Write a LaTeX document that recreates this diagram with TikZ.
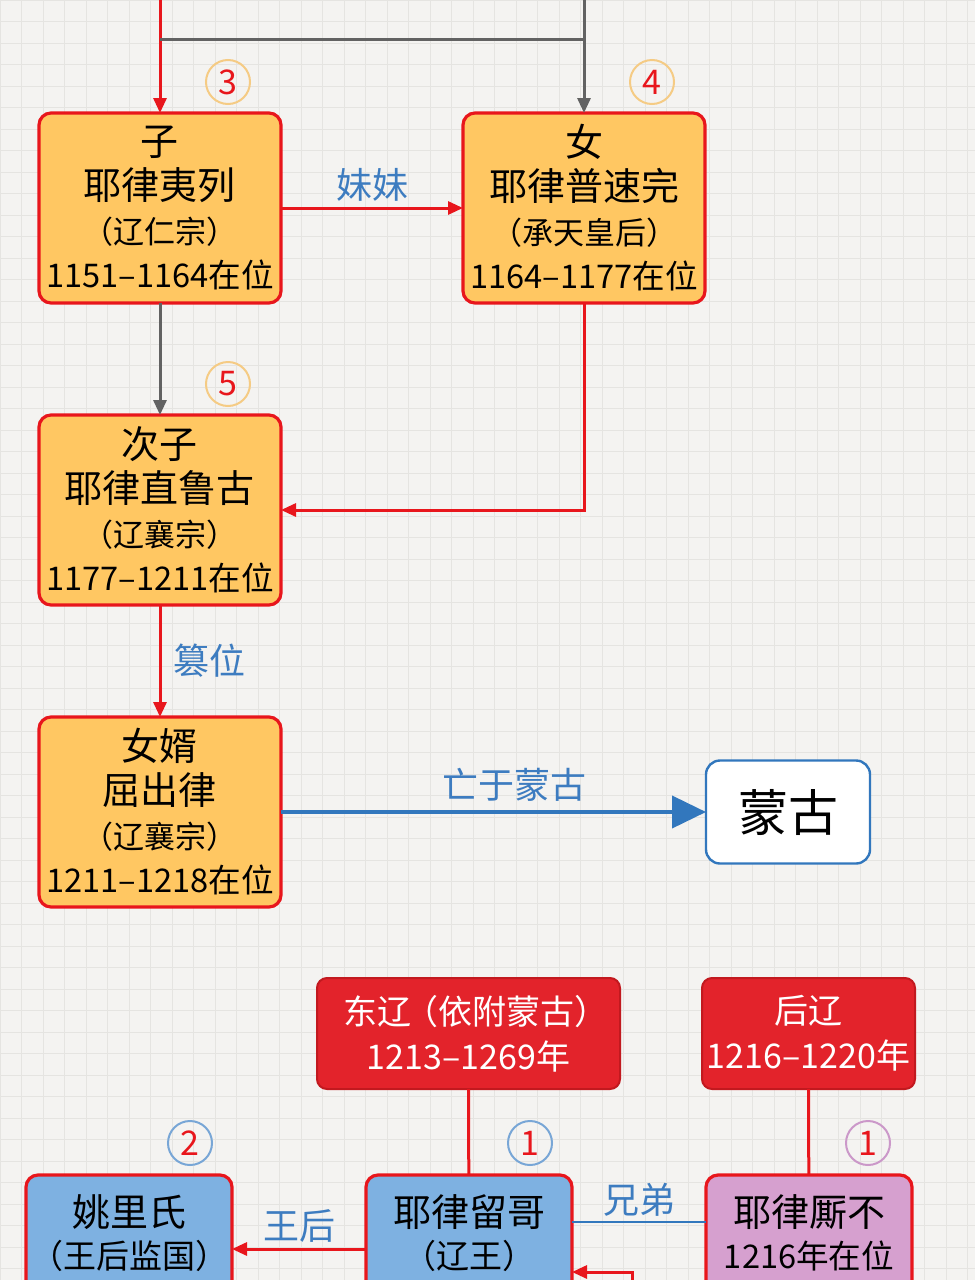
\documentclass[tikz,border=0pt]{standalone}
\usepackage{fontspec}
\setmainfont{Noto Sans CJK SC}
\usetikzlibrary{arrows.meta,positioning,calc}

\definecolor{redline}{HTML}{E8161C}
\definecolor{grayline}{HTML}{626262}
\definecolor{labelblue}{HTML}{3D7CC0}
\definecolor{arrowblue}{HTML}{3277BD}
\definecolor{orangefill}{HTML}{FFC762}
\definecolor{bluefill}{HTML}{7EB1E1}
\definecolor{pinkfill}{HTML}{D6A0CF}
\definecolor{ringorange}{HTML}{F5CB84}
\definecolor{ringblue}{HTML}{78A6D6}
\definecolor{ringpink}{HTML}{CB98C9}
\definecolor{realmred}{HTML}{E3232B}
\definecolor{realmedge}{HTML}{C2191F}
\definecolor{paper}{HTML}{F4F3F1}
\definecolor{gridgray}{HTML}{E5E4E1}

\newcommand{\namefont}{\fontsize{19}{22}\selectfont}
\newcommand{\parfont}{\fontsize{15.5}{22}\selectfont}
\newcommand{\yearfont}{\fontsize{16.3}{22}\selectfont}

\begin{document}
\begin{tikzpicture}[x=0.5pt,y=-0.5pt,>={Triangle[length=7.5pt,width=6.5pt]},auto,node distance=56pt,
                    semithick]
  \tikzstyle{ruler}=[rectangle,rounded corners=6pt,draw=redline,line width=1.6pt,fill=orangefill,
                     minimum width=121pt,minimum height=95pt,inner sep=0pt,outer sep=0pt,align=center,
                     font=\namefont]
  \tikzstyle{noble}=[rectangle,rounded corners=6pt,draw=redline,line width=1.6pt,anchor=north,
                     minimum width=103pt,inner xsep=0pt,inner ysep=10pt,outer sep=0pt,text depth=60pt,
                     align=center,font=\fontsize{19}{21}\selectfont]
  \tikzstyle{realm}=[rectangle,rounded corners=5pt,draw=realmedge,line width=1pt,fill=realmred,
                     text=white,minimum height=55.5pt,inner sep=0pt,outer sep=0pt,align=center,
                     font=\fontsize{17}{22.5}\selectfont]
  \tikzstyle{mgbox}=[rectangle,rounded corners=7pt,draw=arrowblue,line width=1.2pt,fill=white,
                     minimum width=82pt,minimum height=51.5pt,outer sep=0pt,font=\fontsize{25}{25}\selectfont]
  \tikzstyle{seq}=[circle,draw,line width=1pt,minimum size=22pt,inner sep=0pt,text=redline,
                   font=\fontsize{17}{17}\selectfont]
  \tikzstyle{lbl}=[text=labelblue,inner sep=2.5pt,font=\fontsize{18}{18}\selectfont]
  \tikzstyle{redarr}=[draw=redline,line width=1.5pt,->]
  \tikzstyle{grayarr}=[draw=grayline,line width=1.5pt,->]
  \tikzstyle{bluearr}=[draw=arrowblue,line width=2pt,-{Triangle[length=17pt,width=16pt]}]

  \useasboundingbox (0,0) rectangle (975,1280);
  \clip (0,0) rectangle (975,1280);
  \fill[paper] (0,0) rectangle (975,1280);
  \foreach \g in {0,21.5,...,980} \draw[gridgray,line width=0.5pt] (\g,0) -- (\g,1280);
  \foreach \g in {0,21.5,...,1290} \draw[gridgray,line width=0.5pt] (0,\g) -- (975,\g);

  % Xi Liao line
  \node[ruler] (yilie) at (160,208) {子\\耶律夷列\\{\parfont （辽仁宗）}\\{\yearfont 1151–1164在位}};
  \node[ruler] (pusu) [right=91pt of yilie] {女\\耶律普速完\\{\parfont （承天皇后）}\\{\yearfont 1164–1177在位}};
  \node[ruler] (zhilugu) [below=of yilie] {次子\\耶律直鲁古\\{\parfont （辽襄宗）}\\{\yearfont 1177–1211在位}};
  \node[ruler] (quchulu) [below=of zhilugu] {女婿\\屈出律\\{\parfont （辽襄宗）}\\{\yearfont 1211–1218在位}};
  \node[mgbox] (menggu) [right=212.5pt of quchulu] {蒙古};

  \node[seq,draw=ringorange] (o3) at (228,82) {3};
  \node[seq,draw=ringorange] (o4) at (652,82) {4};
  \node[seq,draw=ringorange] (o5) at (228,384) {5};

  \coordinate (topL) at (160,-5);
  \coordinate (topR) at (584,-5);
  \coordinate (forkL) at (160,39);
  \coordinate (forkR) at (584,39);

  \path (topL) edge [redarr] (yilie)
        (topR) edge [grayarr] (pusu)
        (forkL) edge [draw=grayline,line width=1.5pt] (forkR)
        (yilie) edge [redarr] node[lbl] {妹妹} (pusu)
        (yilie) edge [grayarr] (zhilugu)
        (zhilugu) edge [redarr] node[lbl,inner sep=6pt] {篡位} (quchulu)
        (quchulu) edge [bluearr] node[lbl,pos=0.55,inner sep=4.5pt] {亡于蒙古} (menggu);
  \draw[redarr] (pusu) |- (zhilugu);

  % Dong Liao / Hou Liao
  \node[realm,minimum width=151.5pt] (dongliao) at (468.5,1033.5) {东辽\kern-0.2em（依附蒙古）\kern-0.45em\\1213–1269年};
  \node[realm,minimum width=106.5pt] (houliao) at (808.5,1033.5) {后辽\\1216–1220年};

  \node[noble,fill=bluefill] (yaoli) at (129,1175) {姚里氏\\{\fontsize{16.5}{21}\selectfont （王后监国）}};
  \node[noble,fill=bluefill] (liuge) at (469,1175) {耶律留哥\\{\fontsize{16.5}{21}\selectfont （辽王）}};
  \node[noble,fill=pinkfill] (sibu) at (809,1175) {耶律厮不\\{\yearfont 1216年在位}};

  \node[seq,draw=ringblue] (o2) at (190,1143) {2};
  \node[seq,draw=ringblue] (o1a) at (530,1143) {1};
  \node[seq,draw=ringpink] (o1b) at (868,1143) {1};

  \coordinate (lowin) at (632,1310);

  \path (dongliao) edge [draw=redline,line width=1.5pt] (liuge)
        (houliao) edge [draw=redline,line width=1.5pt] (sibu);
  \draw[redarr] ($(liuge.north west)+(0,74)$) -- node[lbl,swap] {王后} ($(yaoli.north east)+(0,74)$);
  \draw[draw=arrowblue,line width=1pt] ($(liuge.north east)+(0,47)$) -- node[lbl] {兄弟} ($(sibu.north west)+(0,47)$);
  \draw[redarr] (lowin) |- ($(liuge.north east)+(0,97)$);
\end{tikzpicture}
\end{document}
